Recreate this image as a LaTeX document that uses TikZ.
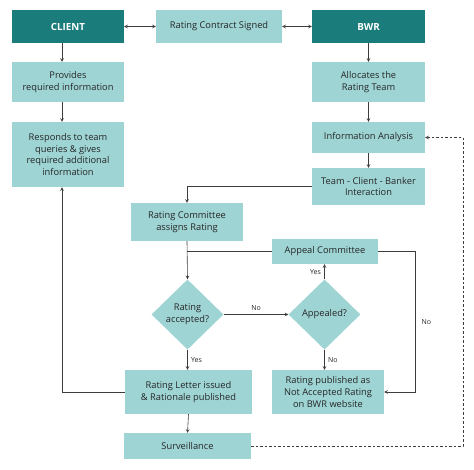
\documentclass[tikz,border=0pt]{standalone}
\usepackage{fontspec}
\setmainfont{Open Sans}
\usetikzlibrary{shapes.geometric}

\definecolor{tealdark}{RGB}{27,124,124}
\definecolor{teallight}{RGB}{158,212,212}
\definecolor{linegray}{RGB}{60,60,60}

\tikzset{
  box/.style={fill=teallight, text=black!85, align=center, inner sep=0pt,
              font=\fontsize{9.3}{11.7}\selectfont},
  headbox/.style={box, fill=tealdark, text=white,
              font=\fontsize{9.8}{11.7}\selectfont\bfseries},
  choice/.style={diamond, fill=teallight, text=black!85, align=center,
              inner sep=0pt, minimum width=72, minimum height=70,
              font=\fontsize{9.3}{11.7}\selectfont},
  link/.style={draw=linegray, line width=0.6pt},
  tag/.style={font=\fontsize{7}{8}\selectfont, text=black!85},
}

\begin{document}
\begin{tikzpicture}[x=1pt,y=-1pt,>=stealth]

  \useasboundingbox (0,0) rectangle (474,469);

  % top row
  \node[headbox, minimum width=112, minimum height=33] (client) at (68,26.5) {CLIENT};
  \node[box, minimum width=126, minimum height=33] (contract) at (219,26.5) {Rating Contract Signed};
  \node[headbox, minimum width=113, minimum height=33] (bwr) at (368.5,26.5) {BWR};

  % client side
  \node[box, minimum width=112, minimum height=40] (provides) at (68,82)
       {Provides\\required information};
  \node[box, minimum width=112, minimum height=65] (responds) at (68,154.5)
       {Responds to team\\queries \& gives\\required additional\\information};

  % bwr side
  \node[box, minimum width=113, minimum height=40] (allocates) at (368.5,82)
       {Allocates the\\Rating Team};
  \node[box, minimum width=113, minimum height=31] (analysis) at (368.5,137.5)
       {Information Analysis};
  \node[box, minimum width=113, minimum height=37] (team) at (368.5,186.5)
       {Team - Client - Banker\\Interaction};

  % rating process
  \node[box, minimum width=112, minimum height=38] (committee) at (187,222)
       {Rating Committee\\assigns Rating};
  \node[box, minimum width=106, minimum height=25] (appeal) at (325,251.5)
       {Appeal Committee};
  \node[choice] (accepted) at (187.5,314.5) {Rating\\accepted?};
  \node[choice] (appealed) at (324.5,314.5) {Appealed?};
  \node[box, minimum width=127, minimum height=44] (letter) at (188.5,392)
       {Rating Letter issued\\\& Rationale published};
  \node[box, minimum width=112, minimum height=44] (published) at (328,392)
       {Rating published as\\Not Accepted Rating\\on BWR website};
  \node[box, minimum width=127, minimum height=26] (surveil) at (187.5,446)
       {Surveillance};

  \coordinate (nobend) at (415,0);
  \coordinate (loopback) at (463,0);

  % connectors
  \draw[link, <->] (client) -- (contract);
  \draw[link, <->] (contract) -- (bwr);

  \draw[link, ->] ([xshift=-6]client.south) -- ([xshift=-6]provides.north);
  \draw[link, ->] ([xshift=-6]provides.south) -- ([xshift=-6]responds.north);

  \draw[link, ->] (bwr) -- (allocates);
  \draw[link, ->] (allocates) -- (analysis);
  \draw[link, ->] (analysis) -- (team);

  \draw[link, ->] (team.west) -| (committee.north);
  \draw[link, ->] (committee.south) -- (accepted.north);
  \draw[link] (appeal.west) -- (appeal.west -| committee.south);

  \draw[link, ->] (accepted.east) -- node[tag, above] {No} (appealed.west);
  \draw[link, ->] (appealed.north) -- node[tag, left] {Yes} (appealed.north |- appeal.south);
  \draw[link, ->] (appealed.south) -- node[tag, right] {No} (appealed.south |- published.north);
  \draw[link, ->] (accepted.south) -- node[tag, right] {Yes} (accepted.south |- letter.north);

  \draw[link, ->] (appeal.east) -- (appeal.east -| nobend)
       -- node[tag, right=3pt] {No} (published.east -| nobend) -- (published.east);

  \draw[link, ->] (letter.west) -| ([xshift=-6]responds.south);
  \draw[link, ->] (letter.south) -- (surveil.north);

  \draw[link, dash pattern=on 2.5pt off 2pt, ->] (surveil.east) -| (loopback |- analysis.east)
       -- (analysis.east);

\end{tikzpicture}
\end{document}
